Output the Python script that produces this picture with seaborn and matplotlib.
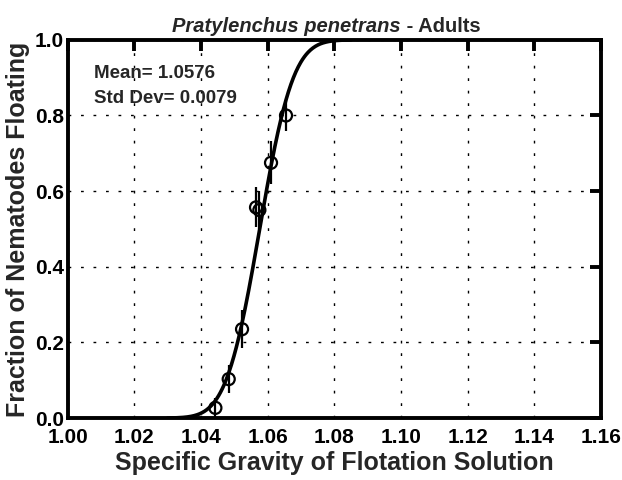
import math
import numpy as np
import pandas as pd
import matplotlib
matplotlib.use("Agg")
import matplotlib.pyplot as plt
import seaborn as sns

# observed fraction floating vs specific gravity
gravity = [1.0443, 1.0483, 1.0523, 1.0565, 1.0575, 1.0610, 1.0655]
fraction = [0.027, 0.103, 0.235, 0.557, 0.550, 0.675, 0.800]
error = [0.025, 0.037, 0.050, 0.053, 0.050, 0.057, 0.040]

# fitted normal parameters shown on the chart
fit_mean = 1.0576
fit_sd = 0.0079

x_ticks = [1.00, 1.02, 1.04, 1.06, 1.08, 1.10, 1.12, 1.14, 1.16]
y_ticks = [0.0, 0.2, 0.4, 0.6, 0.8, 1.0]

sns.set_style("white")
plt.rcParams["font.family"] = ["Liberation Sans", "DejaVu Sans"]

points = pd.DataFrame({"sg": gravity, "frac": fraction, "err": error})
xs = np.linspace(1.03, 1.085, 300)
curve = pd.DataFrame({
    "sg": xs,
    "frac": [0.5 * (1 + math.erf((v - fit_mean) / (fit_sd * math.sqrt(2)))) for v in xs],
})

fig = plt.figure(figsize=(6.22, 4.8), dpi=100)
ax = fig.add_axes([0.109, 0.129, 0.857, 0.788])

ax.grid(True, color="black", linestyle=(0, (2, 7)), linewidth=1.0)
sns.lineplot(data=curve, x="sg", y="frac", ax=ax, color="black", linewidth=2.6, zorder=3)
ax.errorbar(points["sg"], points["frac"], yerr=points["err"], fmt="none",
            ecolor="black", elinewidth=1.6, capsize=0, zorder=4)
sns.scatterplot(data=points, x="sg", y="frac", ax=ax, s=75, marker="o",
                facecolors="none", edgecolor="black", linewidth=1.6, zorder=5)

ax.set_xlim(1.00, 1.16)
ax.set_ylim(0.0, 1.0)
ax.set_xticks(x_ticks)
ax.set_xticklabels([f"{t:.2f}" for t in x_ticks])
ax.set_yticks(y_ticks)
ax.set_yticklabels([f"{t:.1f}" for t in y_ticks])
ax.tick_params(direction="in", length=8, width=2.8, top=True, right=True,
               labelsize=15, colors="black")
ax.tick_params(axis="x", pad=7)
ax.tick_params(axis="y", pad=3)
for lab in ax.get_xticklabels() + ax.get_yticklabels():
    lab.set_fontweight("bold")
for sp in ax.spines.values():
    sp.set_linewidth(2.8)
    sp.set_color("black")

ax.set_xlabel("Specific Gravity of Flotation Solution", fontsize=18,
              fontweight="bold", labelpad=3)
ax.set_ylabel("Fraction of Nematodes Floating", fontsize=18,
              fontweight="bold", labelpad=3)

ax.text(0.625, 1.01, "Pratylenchus penetrans", transform=ax.transAxes,
        ha="right", va="bottom", fontsize=14.5, fontweight="bold", fontstyle="italic")
ax.text(0.625, 1.01, " - Adults", transform=ax.transAxes,
        ha="left", va="bottom", fontsize=14.5, fontweight="bold")

ax.text(0.05, 0.91, f"Mean= {fit_mean:.4f}", transform=ax.transAxes,
        fontsize=13.5, fontweight="bold", va="center")
ax.text(0.05, 0.845, f"Std Dev= {fit_sd:.4f}", transform=ax.transAxes,
        fontsize=13.5, fontweight="bold", va="center")

fig.savefig("out.png", dpi=100)
